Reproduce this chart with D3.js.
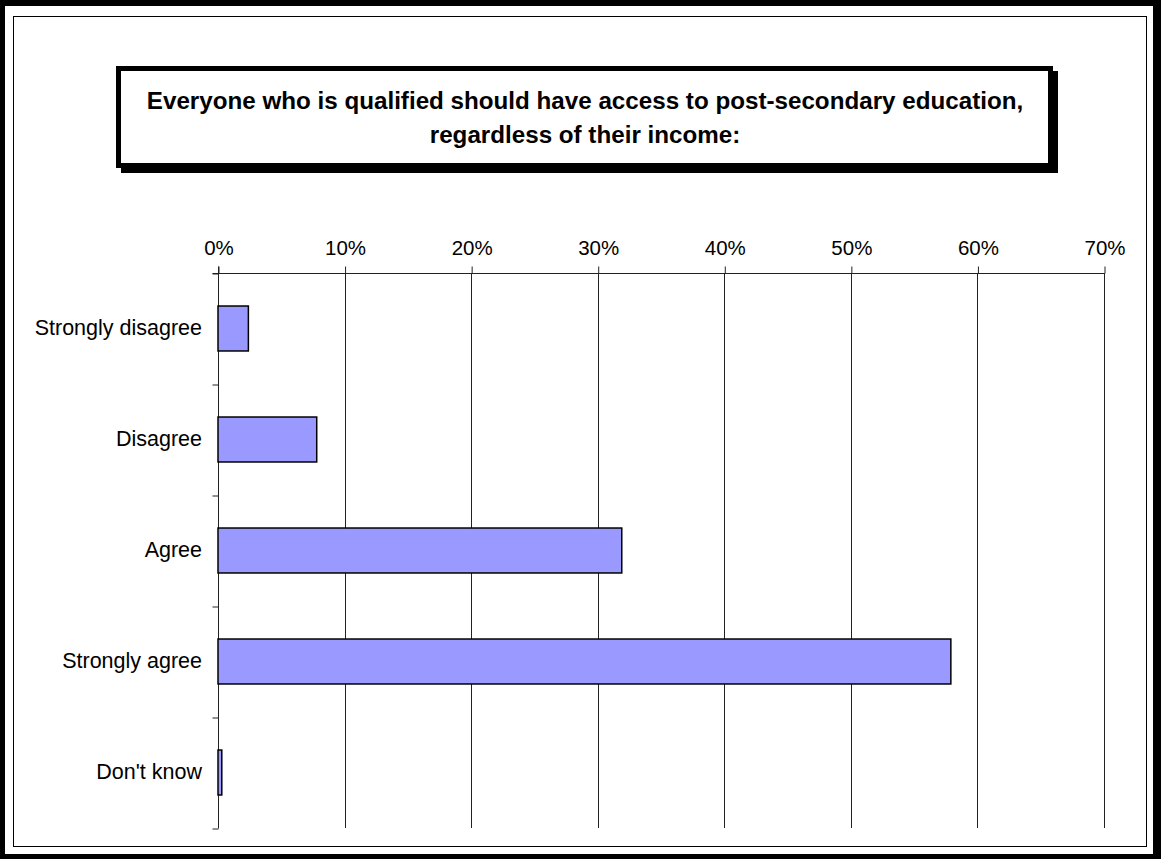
<!DOCTYPE html>
<html>
<head>
<meta charset="utf-8">
<script src="https://cdn.jsdelivr.net/npm/d3@7"></script>
<style>
  html, body { margin: 0; padding: 0; background: #fff; }
  svg { display: block; }
  text { font-family: "Liberation Sans", Arial, sans-serif; fill: #000; }
</style>
</head>
<body>
<svg id="chart" width="1161" height="859"></svg>
<script>
// Survey responses (share of respondents)
const categories = ["Strongly disagree", "Disagree", "Agree", "Strongly agree", "Don't know"];
const shares = [0.024, 0.078, 0.319, 0.579, 0.003];
const tickValues = [0, 0.1, 0.2, 0.3, 0.4, 0.5, 0.6, 0.7];
const titleLines = [
  "Everyone who is qualified should have access to post-secondary education,",
  "regardless of their income:"
];

const W = 1161, H = 859;
const svg = d3.select("#chart");

// Page frame: thick black border with a thin inner rule
svg.append("rect").attr("x", 0).attr("y", 0).attr("width", W).attr("height", H).attr("fill", "#000");
svg.append("rect").attr("x", 5).attr("y", 6).attr("width", 1148).attr("height", 848).attr("fill", "#fff");
svg.append("rect").attr("x", 13.5).attr("y", 16.5).attr("width", 1133).attr("height", 830)
  .attr("fill", "none").attr("stroke", "#000").attr("stroke-width", 1);

// Title box with drop shadow
const box = { x: 116, y: 66, w: 937, h: 102, border: 5, shadow: 5 };
svg.append("rect")
  .attr("x", box.x + box.shadow).attr("y", box.y + box.shadow)
  .attr("width", box.w).attr("height", box.h).attr("fill", "#000");
svg.append("rect")
  .attr("x", box.x + box.border / 2).attr("y", box.y + box.border / 2)
  .attr("width", box.w - box.border).attr("height", box.h - box.border)
  .attr("fill", "#fff").attr("stroke", "#000").attr("stroke-width", box.border);
svg.append("text")
  .attr("x", 585).attr("y", 109)
  .attr("text-anchor", "middle")
  .style("font-size", "24.2px").style("font-weight", "bold")
  .selectAll("tspan").data(titleLines).join("tspan")
  .attr("x", 585).attr("dy", (d, i) => i === 0 ? 0 : 34)
  .text(d => d);

// Plot scales
const plot = { left: 218, right: 1104, top: 273, bottom: 828 };
const x = d3.scaleLinear().domain([0, 0.7]).range([plot.left, plot.right]);
const y = d3.scaleBand().domain(categories).range([plot.top, plot.bottom])
  .paddingInner(0.595).paddingOuter(0.2975);

// Vertical gridlines
svg.append("g").selectAll("line").data(tickValues.slice(1)).join("line")
  .attr("x1", d => Math.round(x(d)) + 0.5).attr("x2", d => Math.round(x(d)) + 0.5)
  .attr("y1", plot.top).attr("y2", plot.bottom)
  .attr("stroke", "#222").attr("stroke-width", 1);

// Top percentage axis
const xAxis = svg.append("g")
  .attr("transform", `translate(0.5,${plot.top + 0.5})`)
  .call(d3.axisTop(x).tickValues(tickValues).tickFormat(d3.format(".0%"))
    .tickSize(7).tickSizeOuter(0).tickPadding(12));
xAxis.select(".domain").attr("stroke", "#222")
  .attr("d", `M${plot.left - 6},0H${plot.right}`);
xAxis.selectAll(".tick line").attr("stroke", "#222");
xAxis.selectAll(".tick text")
  .style("font-family", '"Liberation Sans", Arial, sans-serif')
  .style("font-size", "20.5px").attr("fill", "#000");

// Left axis: ticks at category boundaries
const edges = d3.scaleLinear().domain([0, categories.length]).range([plot.top, plot.bottom]);
const yEdges = svg.append("g")
  .attr("transform", `translate(${plot.left + 0.5},0.5)`)
  .call(d3.axisLeft(edges).tickValues(d3.range(categories.length + 1))
    .tickFormat("").tickSize(6).tickSizeOuter(0));
yEdges.select(".domain").attr("stroke", "#222")
  .attr("d", `M0,${plot.top - 7}V${plot.bottom}`);
yEdges.selectAll(".tick line").attr("stroke", "#222");

// Category labels
const yLabels = svg.append("g")
  .attr("transform", `translate(${plot.left},0)`)
  .call(d3.axisLeft(y).tickSize(0).tickPadding(16));
yLabels.select(".domain").remove();
yLabels.selectAll(".tick text")
  .style("font-family", '"Liberation Sans", Arial, sans-serif')
  .style("font-size", "21.5px").attr("fill", "#000");

// Bars
svg.append("g").selectAll("rect").data(categories).join("rect")
  .attr("x", x(0))
  .attr("y", d => y(d))
  .attr("width", (d, i) => x(shares[i]) - x(0))
  .attr("height", y.bandwidth())
  .attr("fill", "#9999ff")
  .attr("stroke", "#000").attr("stroke-width", 1.5);
</script>
</body>
</html>
